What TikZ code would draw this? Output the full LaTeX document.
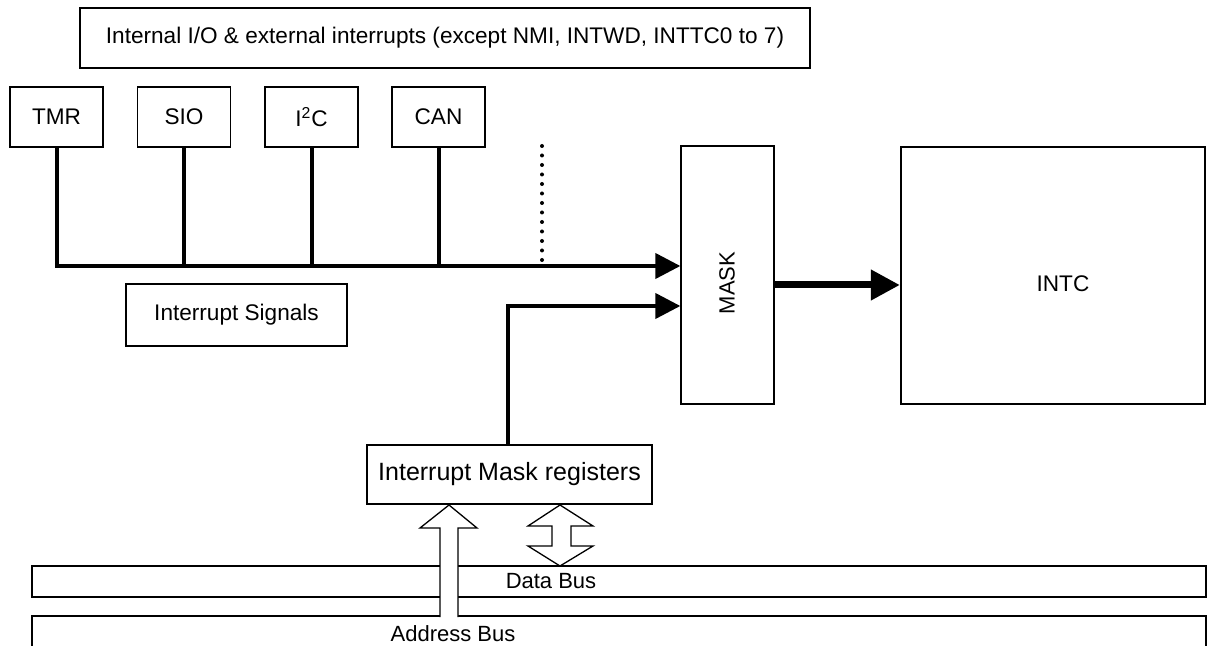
\documentclass[tikz,border=0pt]{standalone}
\usepackage{fontspec}
\setmainfont{Liberation Sans}
\usetikzlibrary{arrows.meta}
\begin{document}
\begin{tikzpicture}[
    x=0.5pt, y=-0.5pt,
    box/.style={rectangle, draw, line width=0.65pt, inner sep=0pt, font=\fontsize{11.3}{13}\selectfont},
    sig/.style={line width=2pt},
    sigtip/.style={sig, -{Triangle[length=12.5pt, width=12.5pt]}},
    outarrow/.style={line width=3.5pt, -{Triangle[length=14.5pt, width=14.5pt]}},
    hollow/.style={draw, fill=white, line width=0.65pt, line join=miter},
    buslabel/.style={inner sep=0pt, font=\fontsize{11}{13}\selectfont}
]
    \clip (0,0) rectangle (1216,646);
    \useasboundingbox (0,0) rectangle (1216,646);

    % Interrupt sources
    \node[box, minimum width=365pt, minimum height=30pt] (srcs) at (445,38) {Internal I/O \& external interrupts (except NMI, INTWD, INTTC0 to 7)};
    \node[box, minimum width=46.5pt, minimum height=30pt] (tmr) at (56.5,117) {TMR};
    \node[box, minimum width=46.5pt, minimum height=30pt] (sio) at (184,117) {SIO};
    \node[box, minimum width=46.5pt, minimum height=30pt] (iic) at (311.5,117) {I\textsuperscript{2}C};
    \node[box, minimum width=46.5pt, minimum height=30pt] (can) at (438.5,117) {CAN};

    % Mask and controller
    \node[box, minimum width=46.5pt, minimum height=129pt] (mask) at (727.5,275) {};
    \node[font=\fontsize{11}{13}\selectfont, rotate=90] (masklabel) at (727,283) {MASK};
    \node[box, line width=1.1pt, minimum width=152pt, minimum height=128.5pt] (intc) at (1053,275.5) {};
    \node[font=\fontsize{11.3}{13}\selectfont] (intclabel) at (1063,284) {INTC};

    \node[box, minimum width=110.5pt, minimum height=31pt] (sigs) at (236.5,315) {Interrupt Signals};
    \node[box, minimum width=142.5pt, minimum height=29.5pt, font=\fontsize{12.5}{14}\selectfont] (imr) at (509.5,474.5) {Interrupt Mask registers};

    % Buses
    \node[box, minimum width=587pt, minimum height=15.5pt] (databus) at (619,581.5) {};
    \node[box, minimum width=587pt, minimum height=40pt] (addrbus) at (619,656) {};
    \node[buslabel] (datalabel) at (551,581) {Data Bus};
    \node[buslabel] (addrlabel) at (453,634) {Address Bus};

    % Interrupt signal lines
    \coordinate (in1) at (mask.west |- 0,266);
    \coordinate (in2) at (mask.west |- 0,306);
    \draw[sigtip] (tmr.south) |- (in1);
    \foreach \src in {sio, iic, can}
        \draw[sig] (\src.south) -- (\src.south |- in1);
    \draw[line width=2pt, line cap=round, dash pattern=on 0pt off 4.75pt] (542,146) -- (542,262);
    \draw[sigtip] (imr.north -| 508,0) |- (in2);
    \draw[outarrow] (mask.east |- 0,285) -- (intc.west |- 0,285);

    % Address bus arrow
    \path[hollow] (440,617) -- (440,528) -- (420,528) -- (449,505) -- (477,528) -- (458,528) -- (458,617);
    % Data bus arrow
    \path[hollow] (560,505) -- (593,526) -- (571,526) -- (571,546) -- (593,546) -- (560,566)
        -- (528,546) -- (552,546) -- (552,526) -- (528,526) -- cycle;
\end{tikzpicture}
\end{document}
